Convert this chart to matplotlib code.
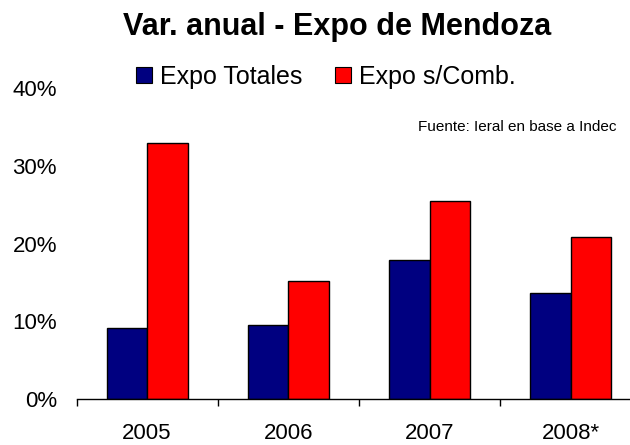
import numpy as np
import matplotlib as mpl
mpl.use('Agg')
import matplotlib.pyplot as plt
from matplotlib.patches import Patch
from matplotlib.ticker import FixedLocator, PercentFormatter

plt.rcParams['font.family'] = ['Liberation Sans', 'DejaVu Sans']

years = ['2005', '2006', '2007', '2008*']
expo_totales = [9.1, 9.5, 17.9, 13.6]      # % var. anual
expo_s_comb = [32.9, 15.2, 25.5, 20.9]
series_names = ['Expo Totales', 'Expo s/Comb.']
colors = ['#000080', '#FF0000']

fig = plt.figure(figsize=(6.3, 4.45), dpi=100)
ax = fig.add_axes([76.5 / 630, 46 / 445, 564.8 / 630, 311 / 445])

x = np.arange(len(years))
w = 0.287
ax.bar(x - w / 2, expo_totales, width=w, color=colors[0], edgecolor='black', linewidth=1)
ax.bar(x + w / 2, expo_s_comb, width=w, color=colors[1], edgecolor='black', linewidth=1)

ax.set_xlim(-0.5, len(years) - 0.5)
ax.set_ylim(0, 40)
ax.set_yticks([0, 10, 20, 30, 40])
ax.yaxis.set_major_formatter(PercentFormatter(decimals=0))
ax.tick_params(axis='y', length=0, pad=14, labelsize=16)

ax.set_xticks(x)
ax.set_xticklabels(years)
ax.xaxis.set_minor_locator(FixedLocator(np.arange(len(years) + 1) - 0.5))
ax.tick_params(axis='x', which='major', length=0, pad=17, labelsize=16)
ax.tick_params(axis='x', which='minor', length=5, width=1, direction='out')

for s in ['top', 'right', 'left']:
    ax.spines[s].set_visible(False)
ax.spines['bottom'].set_linewidth(1)

fig.text(337 / 630, 1 - 27 / 445, 'Var. anual - Expo de Mendoza', ha='center', va='center',
         fontsize=22, fontweight='bold')

handles = [Patch(facecolor=c, edgecolor='black', linewidth=0.8) for c in colors]
fig.legend(handles, series_names, loc='center left', bbox_to_anchor=(136 / 630, 1 - 77 / 445),
           ncol=2, frameon=False, fontsize=18, handlelength=0.64, handleheight=0.64,
           handletextpad=0.32, columnspacing=1.3, borderpad=0, borderaxespad=0)

fig.text(617 / 630, 1 - 127 / 445, 'Fuente: Ieral en base a Indec', ha='right', va='center',
         fontsize=11)

plt.savefig('out.png', dpi=100)
plt.close(fig)
